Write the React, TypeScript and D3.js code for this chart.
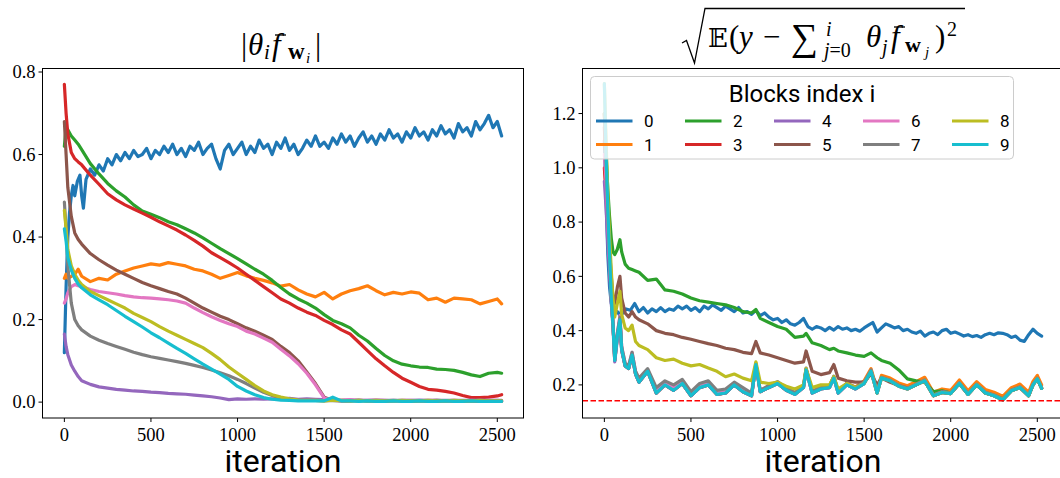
import React from 'react';
import * as d3 from 'd3';

// ---------- iteration grids ----------
const ITER_L = [0, 10, 20, 40, 60, 80, 100, ...d3.range(150, 2501, 50), 2525];
const ITER_R = [0, 10, 20, 30, 40, 50, 60, 75, 90, 100,
  120, 140, 160, 180, 200,
  250, 300, 350, 400, 450, 500, 550, 600, 650, 700,
  750, 800, 850, 875, 900, 950, 1000, 1050, 1100, 1150,
  1165, 1200, 1250, 1300, 1325, 1350, 1400, 1450, 1500, 1540,
  1575, 1600, 1650, 1700, 1750, 1800, 1850, 1900, 1950, 2000,
  2050, 2100, 2150, 2200, 2250, 2300, 2350, 2400, 2450, 2475,
  2500, 2525];
const ITER_BLUE = [0, 10, 20, 30, 40, 50, 60, 75, 90, 100, 110, 125, ...d3.range(150, 2501, 25), 2525];

// ---------- left panel: |theta_i f_wi| ----------
const L0 = [0.12, 0.28, 0.4, 0.46, 0.5, 0.525, 0.5, 0.535, 0.55, 0.5, 0.47, 0.54,
  0.565, 0.55, 0.575, 0.56, 0.59, 0.575, 0.6, 0.585, 0.605, 0.59,
  0.61, 0.595, 0.6, 0.615, 0.59, 0.61, 0.6, 0.62, 0.605, 0.625,
  0.6, 0.615, 0.595, 0.62, 0.61, 0.63, 0.6, 0.615, 0.625, 0.59,
  0.565, 0.61, 0.625, 0.6, 0.615, 0.63, 0.6, 0.62, 0.605, 0.635,
  0.615, 0.625, 0.6, 0.63, 0.615, 0.64, 0.61, 0.625, 0.6, 0.615,
  0.635, 0.62, 0.645, 0.62, 0.63, 0.615, 0.64, 0.625, 0.65, 0.63,
  0.645, 0.62, 0.64, 0.655, 0.63, 0.645, 0.625, 0.65, 0.635, 0.66,
  0.64, 0.65, 0.63, 0.655, 0.64, 0.665, 0.645, 0.655, 0.635, 0.66,
  0.645, 0.67, 0.65, 0.66, 0.64, 0.675, 0.655, 0.665, 0.645, 0.68,
  0.66, 0.675, 0.695, 0.665, 0.68,
  0.645];
const L1 = [0.3, 0.31, 0.3, 0.305, 0.31, 0.322, 0.305,
  0.292, 0.3, 0.296, 0.31, 0.318, 0.325, 0.33, 0.335, 0.332, 0.338,
  0.334, 0.33, 0.322, 0.318, 0.31, 0.3, 0.307, 0.314, 0.306, 0.3,
  0.295, 0.289, 0.281, 0.285, 0.272, 0.262, 0.255, 0.266, 0.25, 0.262,
  0.27, 0.275, 0.282, 0.27, 0.26, 0.266, 0.262, 0.267, 0.264, 0.248,
  0.252, 0.242, 0.252, 0.25, 0.248, 0.238, 0.244, 0.25,
  0.238];
const L2 = [0.62, 0.665, 0.66, 0.645, 0.635, 0.625, 0.612,
  0.578, 0.553, 0.53, 0.512, 0.497, 0.478, 0.463, 0.455, 0.447, 0.437,
  0.43, 0.42, 0.41, 0.398, 0.385, 0.372, 0.36, 0.348, 0.335, 0.322,
  0.31, 0.295, 0.278, 0.262, 0.25, 0.24, 0.228, 0.212, 0.198, 0.19,
  0.18, 0.162, 0.148, 0.13, 0.113, 0.1, 0.092, 0.088, 0.085, 0.084,
  0.08, 0.079, 0.077, 0.072, 0.066, 0.062, 0.07, 0.072,
  0.07];
const L3 = [0.77, 0.7, 0.65, 0.605, 0.59, 0.582, 0.575,
  0.55, 0.528, 0.505, 0.49, 0.478, 0.468, 0.458, 0.448, 0.437, 0.427,
  0.417, 0.405, 0.392, 0.378, 0.362, 0.35, 0.338, 0.325, 0.31, 0.295,
  0.28, 0.265, 0.25, 0.24, 0.228, 0.218, 0.21, 0.198, 0.188, 0.175,
  0.165, 0.145, 0.125, 0.105, 0.088, 0.072, 0.058, 0.048, 0.038, 0.031,
  0.029, 0.026, 0.022, 0.016, 0.011, 0.011, 0.012, 0.015,
  0.018];
const L4 = [0.165, 0.135, 0.115, 0.09, 0.075, 0.062, 0.052,
  0.043, 0.037, 0.034, 0.031, 0.029, 0.027, 0.026, 0.024, 0.023, 0.021,
  0.02, 0.019, 0.017, 0.015, 0.013, 0.01, 0.006, 0.008, 0.007, 0.008,
  0.007, 0.008, 0.008, 0.009, 0.007, 0.008, 0.007, 0.006, 0.005, 0.004,
  0.005, 0.004, 0.004, 0.005, 0.004, 0.004, 0.004, 0.004, 0.005, 0.004,
  0.004, 0.004, 0.004, 0.004, 0.004, 0.005, 0.004, 0.004,
  0.004];
const L5 = [0.68, 0.6, 0.52, 0.45, 0.41, 0.394, 0.383,
  0.36, 0.345, 0.332, 0.32, 0.31, 0.3, 0.29, 0.282, 0.275, 0.268,
  0.262, 0.252, 0.24, 0.228, 0.218, 0.208, 0.2, 0.19, 0.18, 0.172,
  0.162, 0.152, 0.135, 0.12, 0.1, 0.073, 0.045, 0.012, 0.004, 0.003,
  0.003, 0.004, 0.003, 0.003, 0.002, 0.003, 0.003, 0.002, 0.003, 0.003,
  0.002, 0.003, 0.003, 0.002, 0.003, 0.002, 0.003, 0.003,
  0.002];
const L6 = [0.24, 0.25, 0.265, 0.28, 0.285, 0.282, 0.28,
  0.273, 0.268, 0.265, 0.262, 0.258, 0.255, 0.253, 0.252, 0.25, 0.248,
  0.245, 0.24, 0.228, 0.217, 0.207, 0.198, 0.19, 0.183, 0.172, 0.165,
  0.155, 0.145, 0.128, 0.112, 0.093, 0.07, 0.042, 0.01, 0.004, 0.005,
  0.006, 0.004, 0.004, 0.005, 0.004, 0.003, 0.004, 0.004, 0.003, 0.004,
  0.004, 0.003, 0.004, 0.003, 0.004, 0.003, 0.004, 0.004,
  0.003];
const L7 = [0.485, 0.42, 0.33, 0.24, 0.2, 0.185, 0.175,
  0.16, 0.15, 0.142, 0.135, 0.128, 0.121, 0.115, 0.11, 0.106, 0.102,
  0.098, 0.094, 0.089, 0.084, 0.078, 0.071, 0.064, 0.055, 0.045, 0.034,
  0.024, 0.016, 0.01, 0.007, 0.005, 0.004, 0.004, 0.003, 0.004, 0.003,
  0.003, 0.004, 0.003, 0.003, 0.003, 0.004, 0.003, 0.003, 0.003, 0.003,
  0.004, 0.003, 0.003, 0.003, 0.003, 0.003, 0.003, 0.003,
  0.003];
const L8 = [0.465, 0.42, 0.37, 0.33, 0.31, 0.295, 0.285,
  0.268, 0.258, 0.248, 0.238, 0.228, 0.215, 0.205, 0.195, 0.183, 0.172,
  0.162, 0.152, 0.142, 0.132, 0.118, 0.103, 0.085, 0.07, 0.055, 0.04,
  0.027, 0.018, 0.012, 0.008, 0.005, 0.004, 0.004, 0.003, 0.005, 0.004,
  0.003, 0.004, 0.003, 0.004, 0.003, 0.003, 0.004, 0.003, 0.003, 0.004,
  0.003, 0.003, 0.004, 0.003, 0.003, 0.004, 0.003, 0.003,
  0.003];
const L9 = [0.42, 0.39, 0.35, 0.32, 0.3, 0.286, 0.277,
  0.26, 0.248, 0.236, 0.222, 0.208, 0.195, 0.182, 0.168, 0.156, 0.143,
  0.13, 0.118, 0.105, 0.092, 0.08, 0.068, 0.055, 0.038, 0.027, 0.018,
  0.011, 0.007, 0.005, 0.004, 0.003, 0.003, 0.003, 0.003, 0.012, 0.003,
  0.003, 0.002, 0.003, 0.002, 0.002, 0.003, 0.002, 0.002, 0.003, 0.002,
  0.002, 0.003, 0.002, 0.002, 0.003, 0.002, 0.002, 0.002,
  0.002];

// ---------- right panel: sqrt(E(y - sum)^2) ----------
const R0 = [1.1, 0.88, 0.68, 0.56, 0.5, 0.48, 0.465, 0.47, 0.455, 0.475, 0.465, 0.48,
  0.475, 0.5, 0.47, 0.485, 0.465, 0.48, 0.47, 0.485, 0.47, 0.48,
  0.475, 0.49, 0.48, 0.49, 0.475, 0.485, 0.47, 0.49, 0.48, 0.495,
  0.485, 0.475, 0.49, 0.48, 0.47, 0.485, 0.465, 0.47, 0.46, 0.475,
  0.455, 0.465, 0.45, 0.44, 0.445, 0.43, 0.44, 0.425, 0.42, 0.43,
  0.445, 0.415, 0.405, 0.415, 0.41, 0.4, 0.412, 0.402, 0.415, 0.405,
  0.41, 0.4, 0.405, 0.398, 0.41, 0.42, 0.43, 0.395, 0.41, 0.425,
  0.418, 0.41, 0.415, 0.4, 0.405, 0.395, 0.39, 0.398, 0.38, 0.39,
  0.395, 0.385, 0.4, 0.405, 0.39, 0.395, 0.388, 0.38, 0.385, 0.378,
  0.382, 0.375, 0.385, 0.39, 0.385, 0.392, 0.39, 0.385, 0.375, 0.38,
  0.365, 0.36, 0.385, 0.405, 0.39,
  0.38];
const R1 = [1.2, 1.0, 0.82, 0.67, 0.52, 0.42, 0.29, 0.38, 0.44, 0.33,
  0.27, 0.26, 0.31, 0.24, 0.21,
  0.25, 0.17, 0.2, 0.18, 0.205, 0.16, 0.19, 0.2, 0.165, 0.17,
  0.2, 0.175, 0.16, 0.275, 0.175, 0.19, 0.205, 0.18, 0.168, 0.192,
  0.258, 0.175, 0.19, 0.195, 0.23, 0.175, 0.205, 0.192, 0.215, 0.26,
  0.182, 0.235, 0.225, 0.207, 0.197, 0.212, 0.228, 0.173, 0.185, 0.18,
  0.218, 0.178, 0.212, 0.183, 0.173, 0.158, 0.19, 0.203, 0.173, 0.213,
  0.235, 0.2];
const R2 = [1.2, 1.05, 0.92, 0.82, 0.74, 0.69, 0.68, 0.7, 0.735, 0.69,
  0.645, 0.63, 0.625, 0.62, 0.615,
  0.585, 0.59, 0.55, 0.545, 0.535, 0.52, 0.51, 0.505, 0.5, 0.495,
  0.485, 0.47, 0.465, 0.478, 0.445, 0.43, 0.415, 0.405, 0.375, 0.38,
  0.39, 0.355, 0.345, 0.33, 0.335, 0.325, 0.318, 0.31, 0.305, 0.318,
  0.3, 0.29, 0.28, 0.255, 0.222, 0.215, 0.21, 0.175, 0.178, 0.17,
  0.205, 0.168, 0.2, 0.172, 0.162, 0.148, 0.18, 0.19, 0.162, 0.2,
  0.222, 0.187];
const R3 = [1.0, 0.9, 0.78, 0.65, 0.52, 0.42, 0.29, 0.38, 0.44, 0.33,
  0.27, 0.26, 0.31, 0.24, 0.21,
  0.25, 0.17, 0.2, 0.18, 0.205, 0.16, 0.19, 0.2, 0.165, 0.17,
  0.2, 0.175, 0.16, 0.275, 0.175, 0.19, 0.205, 0.18, 0.165, 0.19,
  0.255, 0.17, 0.185, 0.19, 0.225, 0.17, 0.2, 0.185, 0.205, 0.25,
  0.17, 0.225, 0.215, 0.195, 0.185, 0.2, 0.215, 0.16, 0.172, 0.168,
  0.205, 0.165, 0.2, 0.17, 0.16, 0.145, 0.178, 0.19, 0.16, 0.2,
  0.222, 0.187];
const R4 = [0.95, 0.85, 0.72, 0.62, 0.5, 0.41, 0.285, 0.37, 0.43, 0.325,
  0.27, 0.26, 0.31, 0.24, 0.21,
  0.25, 0.17, 0.2, 0.18, 0.205, 0.16, 0.19, 0.2, 0.165, 0.17,
  0.2, 0.175, 0.16, 0.275, 0.175, 0.19, 0.205, 0.18, 0.165, 0.19,
  0.255, 0.17, 0.185, 0.19, 0.225, 0.17, 0.2, 0.185, 0.205, 0.25,
  0.17, 0.225, 0.215, 0.195, 0.185, 0.2, 0.215, 0.16, 0.172, 0.168,
  0.205, 0.165, 0.2, 0.17, 0.16, 0.145, 0.178, 0.19, 0.16, 0.2,
  0.222, 0.187];
const R5 = [1.15, 0.98, 0.82, 0.7, 0.6, 0.52, 0.5, 0.56, 0.6, 0.52,
  0.465, 0.45, 0.47, 0.45, 0.44,
  0.425, 0.4, 0.39, 0.385, 0.375, 0.368, 0.36, 0.352, 0.345, 0.335,
  0.33, 0.32, 0.315, 0.36, 0.318, 0.31, 0.3, 0.29, 0.28, 0.285,
  0.325, 0.25, 0.238, 0.245, 0.275, 0.225, 0.215, 0.21, 0.21, 0.24,
  0.2, 0.225, 0.21, 0.198, 0.188, 0.2, 0.215, 0.16, 0.172, 0.168,
  0.205, 0.165, 0.2, 0.17, 0.16, 0.145, 0.178, 0.19, 0.16, 0.2,
  0.222, 0.187];
const R6 = [1.05, 0.95, 0.8, 0.66, 0.52, 0.43, 0.3, 0.39, 0.455, 0.34,
  0.28, 0.27, 0.32, 0.25, 0.22,
  0.255, 0.18, 0.21, 0.19, 0.212, 0.165, 0.195, 0.205, 0.17, 0.175,
  0.203, 0.179, 0.164, 0.279, 0.179, 0.194, 0.209, 0.184, 0.169, 0.194,
  0.258, 0.173, 0.188, 0.193, 0.228, 0.173, 0.203, 0.188, 0.208, 0.253,
  0.172, 0.227, 0.217, 0.197, 0.187, 0.202, 0.217, 0.162, 0.174, 0.17,
  0.207, 0.167, 0.202, 0.172, 0.162, 0.147, 0.18, 0.192, 0.162, 0.202,
  0.224, 0.189];
const R7 = [1.2, 1.02, 0.84, 0.68, 0.53, 0.42, 0.3, 0.39, 0.45, 0.34,
  0.28, 0.27, 0.32, 0.25, 0.225,
  0.26, 0.19, 0.215, 0.2, 0.22, 0.175, 0.205, 0.215, 0.18, 0.185,
  0.21, 0.19, 0.17, 0.28, 0.18, 0.198, 0.212, 0.188, 0.172, 0.197,
  0.262, 0.177, 0.192, 0.197, 0.232, 0.176, 0.206, 0.191, 0.21, 0.255,
  0.173, 0.228, 0.218, 0.198, 0.188, 0.203, 0.218, 0.163, 0.175, 0.171,
  0.208, 0.168, 0.203, 0.173, 0.163, 0.148, 0.181, 0.193, 0.163, 0.203,
  0.225, 0.19];
const R8 = [1.31, 1.1, 0.9, 0.75, 0.62, 0.52, 0.45, 0.5, 0.545, 0.46,
  0.41, 0.4, 0.42, 0.36, 0.345,
  0.33, 0.3, 0.29, 0.295, 0.28, 0.27, 0.275, 0.262, 0.25, 0.23,
  0.24, 0.225, 0.215, 0.285, 0.21, 0.205, 0.21, 0.195, 0.185, 0.2,
  0.26, 0.19, 0.2, 0.2, 0.23, 0.185, 0.205, 0.19, 0.205, 0.25,
  0.17, 0.225, 0.215, 0.195, 0.185, 0.2, 0.215, 0.16, 0.172, 0.168,
  0.205, 0.165, 0.2, 0.17, 0.16, 0.145, 0.178, 0.19, 0.16, 0.2,
  0.222, 0.187];
const R9 = [1.31, 1.05, 0.85, 0.68, 0.52, 0.42, 0.29, 0.38, 0.44, 0.33,
  0.27, 0.26, 0.31, 0.24, 0.21,
  0.25, 0.17, 0.2, 0.18, 0.205, 0.16, 0.19, 0.2, 0.165, 0.17,
  0.2, 0.175, 0.16, 0.275, 0.175, 0.19, 0.205, 0.18, 0.165, 0.19,
  0.255, 0.17, 0.185, 0.19, 0.225, 0.17, 0.2, 0.185, 0.205, 0.25,
  0.17, 0.225, 0.215, 0.195, 0.185, 0.2, 0.215, 0.16, 0.172, 0.168,
  0.205, 0.165, 0.2, 0.17, 0.16, 0.145, 0.178, 0.19, 0.16, 0.2,
  0.222, 0.187];
const REF_LEVEL = 0.142;

const BLOCK_LABELS = ['0', '1', '2', '3', '4', '5', '6', '7', '8', '9'];
const COLORS = ['#1f77b4', '#ff7f0e', '#2ca02c', '#d62728', '#9467bd', '#8c564b', '#e377c2', '#7f7f7f', '#bcbd22', '#17becf'];
const X_TICKS = [0, 500, 1000, 1500, 2000, 2500];
const Y_TICKS_L = [0, 0.2, 0.4, 0.6, 0.8];
const Y_TICKS_R = [0.2, 0.4, 0.6, 0.8, 1.0, 1.2];

const SERIES_L = [
  { it: ITER_BLUE, v: L0 }, { it: ITER_L, v: L1 }, { it: ITER_L, v: L2 }, { it: ITER_L, v: L3 }, { it: ITER_L, v: L4 },
  { it: ITER_L, v: L5 }, { it: ITER_L, v: L6 }, { it: ITER_L, v: L7 }, { it: ITER_L, v: L8 }, { it: ITER_L, v: L9 },
];
const SERIES_R = [
  { it: ITER_BLUE, v: R0 }, { it: ITER_R, v: R1 }, { it: ITER_R, v: R2 }, { it: ITER_R, v: R3 }, { it: ITER_R, v: R4 },
  { it: ITER_R, v: R5 }, { it: ITER_R, v: R6 }, { it: ITER_R, v: R7 }, { it: ITER_R, v: R8 }, { it: ITER_R, v: R9 },
];

const SERIF = "'Liberation Serif', 'DejaVu Serif', serif";
const SANS = "Roboto, 'DejaVu Sans', sans-serif";
const TOP = 68.5, BOTTOM = 418;

function Panel({ id, xRange, yDomain, yTicks, series, refLevel }: any) {
  const x = d3.scaleLinear().domain([-126.25, 2651.25]).range(xRange);
  const y = d3.scaleLinear().domain(yDomain).range([BOTTOM, TOP]);
  const fmt = d3.format('.1f');
  const [x0, x1] = xRange;
  return (
    <g>
      <defs>
        <clipPath id={id}>
          <rect x={x0} y={TOP} width={x1 - x0} height={BOTTOM - TOP} />
        </clipPath>
      </defs>
      <g clipPath={`url(#${id})`}>
        {series.map((s: any, i: number) => {
          const pts = s.v.map((v: number, k: number) => [s.it[k], v] as [number, number]);
          const path = d3.line<[number, number]>().x(d => x(d[0])).y(d => y(d[1]))(pts) || '';
          return <path key={i} d={path} fill="none" stroke={COLORS[i]} strokeWidth={3.2} strokeLinejoin="round" strokeLinecap="round" />;
        })}
        {refLevel !== undefined && (
          <line x1={x0} x2={x1} y1={y(refLevel)} y2={y(refLevel)} stroke="#ff0000" strokeWidth={1.5} strokeDasharray="5.5,2.5" />
        )}
      </g>
      <rect x={x0} y={TOP} width={x1 - x0} height={BOTTOM - TOP} fill="none" stroke="#000" strokeWidth={1} />
      {X_TICKS.map(t => (
        <g key={t}>
          <line x1={x(t)} x2={x(t)} y1={BOTTOM} y2={BOTTOM + 4} stroke="#000" strokeWidth={1} />
          <text x={x(t)} y={440.5} textAnchor="middle" fontFamily={SERIF} fontSize={18.5} fill="#000">{t}</text>
        </g>
      ))}
      {yTicks.map((t: number) => (
        <g key={t}>
          <line x1={x0 - 4} x2={x0} y1={y(t)} y2={y(t)} stroke="#000" strokeWidth={1} />
          <text x={x0 - 7} y={y(t) + 6.3} textAnchor="end" fontFamily={SERIF} fontSize={18.5} fill="#000">{fmt(t)}</text>
        </g>
      ))}
      <text x={(x0 + x1) / 2} y={471.5} textAnchor="middle" fontFamily={SANS} fontSize={32} fill="#000">iteration</text>
    </g>
  );
}

function Legend() {
  const bx = 590.5, by = 76.5, bw = 423, bh = 82.5;
  return (
    <g>
      <rect x={bx} y={by} width={bw} height={bh} rx={4} ry={4} fill="#fff" fillOpacity={0.8} stroke="#cccccc" strokeWidth={1} />
      <text x={bx + bw / 2} y={102} textAnchor="middle" fontFamily={SANS} fontSize={24} fill="#000">Blocks index i</text>
      {BLOCK_LABELS.map((lab, i) => {
        const col = Math.floor(i / 2), row = i % 2;
        const hx = 596 + col * 89;
        const hy = 121 + row * 23.5;
        return (
          <g key={lab}>
            <line x1={hx} x2={hx + 36.5} y1={hy} y2={hy} stroke={COLORS[i]} strokeWidth={3} />
            <text x={hx + 48} y={hy + 6} fontFamily={SANS} fontSize={17} fill="#000">{lab}</text>
          </g>
        );
      })}
    </g>
  );
}

function LeftTitle() {
  return (
    <g fill="#000" fontFamily={SERIF}>
      <text fontSize={31}>
        <tspan x={241} y={55}>|</tspan>
        <tspan x={248} y={55} fontStyle="italic">θ</tspan>
        <tspan x={264} y={59} fontStyle="italic" fontSize={21}>i</tspan>
        <tspan x={272} y={55} fontStyle="italic">f</tspan>
        <tspan x={288} y={59} fontWeight="bold" fontSize={23}>w</tspan>
        <tspan x={306} y={63} fontStyle="italic" fontSize={15}>i</tspan>
        <tspan x={315} y={55}>|</tspan>
      </text>
      <line x1={275} x2={286} y1={35} y2={35} stroke="#000" strokeWidth={1.3} />
    </g>
  );
}

function RightTitle() {
  return (
    <g fill="#000" fontFamily={SERIF}>
      <path d="M682,43 L686.5,40.5 L694.5,63 L705,8.5 L965,8.5" fill="none" stroke="#000" strokeWidth={1.3} strokeLinejoin="miter" />
      <text fontSize={31}>
        <tspan x={708} y={47} fontFamily="'DejaVu Serif', 'DejaVu Sans', serif" fontSize={26}>𝔼</tspan>
        <tspan x={729} y={47}>(</tspan>
        <tspan x={739} y={47} fontStyle="italic">y</tspan>
        <tspan x={763} y={47}>−</tspan>
        <tspan x={791} y={50} fontSize={38}>∑</tspan>
        <tspan x={826} y={36} fontStyle="italic" fontSize={20}>i</tspan>
        <tspan x={824} y={57} fontStyle="italic" fontSize={20}>j</tspan>
        <tspan fontSize={20} y={57}>=0</tspan>
        <tspan x={866} y={47} fontStyle="italic">θ</tspan>
        <tspan x={882} y={54} fontStyle="italic" fontSize={20}>j</tspan>
        <tspan x={891} y={47} fontStyle="italic">f</tspan>
        <tspan x={905} y={52} fontWeight="bold" fontSize={22}>w</tspan>
        <tspan x={925} y={57} fontStyle="italic" fontSize={15}>j</tspan>
        <tspan x={935} y={47}>)</tspan>
        <tspan x={947} y={36} fontSize={20}>2</tspan>
      </text>
      <line x1={894} x2={905} y1={27} y2={27} stroke="#000" strokeWidth={1.3} />
    </g>
  );
}

export default function App() {
  return (
    <svg width={1060} height={478} style={{ position: 'absolute', left: 0, top: 0, background: '#fff' }}>
      <rect x={0} y={0} width={1060} height={478} fill="#fff" />
      <Panel id="clipL" xRange={[42.5, 523.5]} yDomain={[-0.0385, 0.8085]} yTicks={Y_TICKS_L} series={SERIES_L} />
      <Panel id="clipR" xRange={[582.5, 1063.5]} yDomain={[0.078, 1.366]} yTicks={Y_TICKS_R} series={SERIES_R} refLevel={REF_LEVEL} />
      <Legend />
      <LeftTitle />
      <RightTitle />
    </svg>
  );
}
